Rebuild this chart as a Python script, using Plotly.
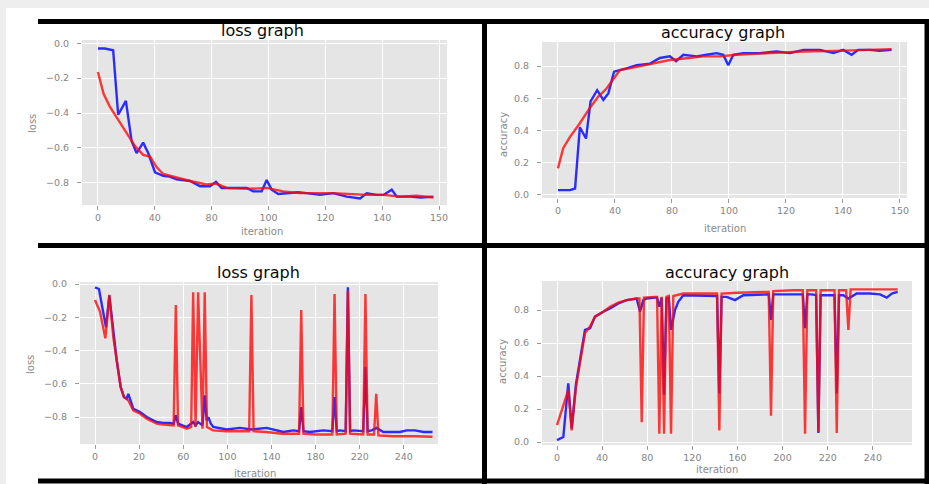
import plotly.graph_objects as go

W, H = 929, 484

# ---------------- data ----------------
# top-left: loss graph (first run)
tl_blue_x = [0, 3, 6.7, 8.9, 12.3, 14.8, 17, 19.9, 22.1, 25.1, 28.7, 31.5, 34.6, 37.5, 40.5, 44.9, 49.3, 51.9,
             54.4, 59.5, 65.4, 68.3, 72, 74.2, 76.4, 79.3, 84.5, 88, 91.8, 97.7, 103.5, 109.4, 115.3, 118.2,
             122.6, 125.6, 129.2, 131.4, 137.3, 142, 147.5]
tl_blue_y = [-0.03, -0.03, -0.04, -0.41, -0.33, -0.56, -0.63, -0.57, -0.63, -0.74, -0.76, -0.765, -0.78, -0.785,
             -0.79, -0.82, -0.82, -0.795, -0.83, -0.83, -0.83, -0.85, -0.85, -0.785, -0.84, -0.865, -0.86, -0.855,
             -0.86, -0.87, -0.86, -0.88, -0.89, -0.86, -0.87, -0.87, -0.84, -0.88, -0.88, -0.885, -0.88]
tl_red_x = [0, 2.5, 5.3, 8.9, 12.6, 16.3, 19.9, 22.9, 25.8, 28.7, 34.6, 40.5, 47.8, 51.9, 56.6, 66.9, 74.2, 81.5,
            88.8, 103.5, 118.2, 125.6, 132.9, 140.2, 147.5]
tl_red_y = [-0.165, -0.29, -0.365, -0.44, -0.52, -0.59, -0.64, -0.65, -0.71, -0.75, -0.77, -0.79, -0.81, -0.805,
            -0.83, -0.835, -0.83, -0.85, -0.86, -0.86, -0.87, -0.87, -0.88, -0.875, -0.885]

# top-right: accuracy graph (first run)
tr_blue_x = [0, 5.3, 7.5, 9.6, 12.3, 14.3, 17.2, 19.9, 22.1, 24.6, 30.1, 34.5, 40.4, 44.7, 49.1, 51.8, 55, 60.8,
             65.2, 69.6, 72.5, 74.7, 76.9, 81.3, 88.6, 95.9, 101.8, 107.6, 114.9, 120.8, 125.1, 128.8, 131.7,
             136.8, 141, 146.3]
tr_blue_y = [0.03, 0.03, 0.04, 0.42, 0.35, 0.58, 0.65, 0.59, 0.63, 0.765, 0.785, 0.805, 0.815, 0.85, 0.86, 0.83,
             0.87, 0.86, 0.87, 0.88, 0.87, 0.805, 0.87, 0.88, 0.88, 0.89, 0.88, 0.90, 0.90, 0.88, 0.90, 0.87, 0.90,
             0.90, 0.895, 0.90]
tr_red_x = [0, 2.3, 5.3, 9.6, 14, 17.7, 21.3, 24.3, 27.2, 34.5, 41.8, 49.1, 56.4, 63.7, 71, 78.3, 92.9, 107.6,
            122.2, 136.8, 146.3]
tr_red_y = [0.165, 0.29, 0.36, 0.445, 0.54, 0.61, 0.66, 0.72, 0.775, 0.795, 0.817, 0.837, 0.848, 0.86, 0.86,
            0.87, 0.88, 0.89, 0.894, 0.90, 0.905]

# bottom-left: loss graph (second run)
bl_blue_x = [0, 3.6, 6.6, 10, 13, 16.6, 19.7, 23.3, 26.3, 28.7, 30.2, 34.7, 40.8, 46.9, 55.9, 61.9, 68, 71.3,
             73.3, 75.3, 78.6, 83.2, 89, 91.2, 93.5, 97.5, 99.5, 101.3, 102.8, 105, 107.3, 119.4, 131.5, 142,
             155.6, 170.7, 179.8, 185, 187, 189, 194.9, 207, 215.2, 217.2, 219.2, 222.1, 227.3, 229.3, 231.3,
             234.2, 243.2, 245.2, 247.2, 250.8, 255.3, 261.4, 276.5, 282.6, 290.1, 298, 306]
bl_blue_y = [-0.02, -0.03, -0.14, -0.26, -0.07, -0.30, -0.46, -0.62, -0.68, -0.69, -0.66, -0.75, -0.77, -0.80,
             -0.83, -0.835, -0.835, -0.84, -0.79, -0.84, -0.85, -0.86, -0.83, -0.85, -0.83, -0.85, -0.67, -0.82,
             -0.80, -0.84, -0.86, -0.875, -0.865, -0.875, -0.865, -0.89, -0.88, -0.885, -0.74, -0.885, -0.89,
             -0.88, -0.885, -0.68, -0.885, -0.88, -0.885, -0.02, -0.885, -0.88, -0.885, -0.50, -0.885, -0.88,
             -0.865, -0.89, -0.89, -0.88, -0.88, -0.89, -0.89]
bl_red_x = [0, 4.5, 9.4, 13, 16.6, 19.7, 23.3, 26.3, 30.2, 34.7, 40.8, 46.9, 55.9, 61.9, 68, 71.3, 73.3, 75.3,
            83.2, 87.2, 89, 91.2, 93.5, 97.5, 99.5, 101.5, 107, 119, 131, 139.8, 141.8, 143.8, 155, 170, 180,
            185, 187, 189, 200, 215.2, 217.2, 219.2, 227.3, 229.3, 231.3, 243.2, 245.2, 247.2, 253, 255, 257,
            270, 290, 306]
bl_red_y = [-0.096, -0.166, -0.327, -0.066, -0.32, -0.46, -0.62, -0.68, -0.70, -0.76, -0.78, -0.81, -0.84,
            -0.845, -0.85, -0.85, -0.126, -0.85, -0.87, -0.86, -0.05, -0.86, -0.05, -0.87, -0.05, -0.86, -0.88,
            -0.885, -0.885, -0.885, -0.066, -0.885, -0.89, -0.90, -0.90, -0.90, -0.156, -0.90, -0.905, -0.905,
            -0.06, -0.905, -0.90, -0.04, -0.90, -0.905, -0.06, -0.905, -0.905, -0.66, -0.91, -0.915, -0.915,
            -0.918]

# bottom-right: accuracy graph (second run)
br_blue_x = [0, 5.6, 10, 13, 16.8, 20.4, 24.8, 29.3, 33.7, 41, 47, 54.4, 61.8, 70.6, 73.6, 76.5, 79.5, 86.9,
             88.7, 90.7, 92.8, 94.9, 97, 99.1, 101.1, 104.6, 107.5, 112, 129.7, 141.9, 143.9, 145.9, 150.4, 157.8,
             165.2, 182.9, 187.7, 189.7, 191.7, 197.7, 212.5, 217.9, 219.9, 221.9, 225.8, 229.7, 231.7, 233.7,
             237.6, 246, 248, 250, 253.8, 258.3, 265.7, 277.5, 286.3, 292.3, 296.8, 302]
br_blue_y = [0.012, 0.03, 0.355, 0.083, 0.35, 0.50, 0.68, 0.69, 0.76, 0.79, 0.81, 0.84, 0.86, 0.87, 0.79, 0.86,
             0.87, 0.875, 0.875, 0.82, 0.875, 0.285, 0.87, 0.875, 0.68, 0.80, 0.85, 0.89, 0.885, 0.885, 0.295,
             0.88, 0.88, 0.86, 0.89, 0.895, 0.895, 0.74, 0.895, 0.895, 0.895, 0.895, 0.69, 0.895, 0.895, 0.89,
             0.055, 0.89, 0.89, 0.89, 0.295, 0.89, 0.89, 0.87, 0.90, 0.90, 0.895, 0.875, 0.90, 0.91]
br_red_x = [0, 10, 13, 16.8, 20.4, 24.8, 29.3, 33.7, 41, 47, 54.4, 61.8, 70.6, 73.1, 75.1, 77.1, 86.9, 88.7,
            90.7, 92.8, 94.9, 97, 99.1, 101.1, 103.1, 112, 130, 141.9, 143.9, 145.9, 160, 187.7, 189.7, 191.7,
            210, 217.9, 219.9, 221.9, 229.7, 231.7, 233.7, 246, 248, 250, 256.3, 258.3, 260.3, 280, 302]
br_red_y = [0.103, 0.315, 0.07, 0.33, 0.48, 0.66, 0.70, 0.76, 0.79, 0.82, 0.845, 0.86, 0.87, 0.87, 0.12, 0.875,
            0.88, 0.88, 0.05, 0.88, 0.05, 0.88, 0.885, 0.05, 0.885, 0.90, 0.90, 0.90, 0.07, 0.90, 0.905, 0.91,
            0.16, 0.915, 0.92, 0.92, 0.05, 0.92, 0.92, 0.06, 0.92, 0.92, 0.055, 0.92, 0.92, 0.68, 0.925, 0.925,
            0.925]

# ticks
top_x_tickvals = [0, 25, 50, 75, 100, 125, 150]
top_x_ticktext = ["0", "40", "80", "100", "120", "140", "150"]
bot_x_tickvals = [0, 40, 80, 120, 160, 200, 240, 280]
bl_x_ticktext = ["0", "20", "60", "100", "140", "180", "220", "240"]
br_x_ticktext = ["0", "40", "80", "120", "160", "200", "220", "240"]
loss_y_tickvals = [0, -0.2, -0.4, -0.6, -0.8]
loss_y_ticktext = ["0.0", "\u22120.2", "\u22120.4", "\u22120.6", "\u22120.8"]
acc_y_tickvals = [0, 0.2, 0.4, 0.6, 0.8]
acc_y_ticktext = ["0.0", "0.2", "0.4", "0.6", "0.8"]

titles = ["loss graph", "accuracy graph", "loss graph", "accuracy graph"]
xlabel = "iteration"
ylabels = ["loss", "accuracy", "loss", "accuracy"]

# ---------------- layout helpers ----------------
def px_x(x):
    return x / W

def px_y(y):
    return 1 - y / H

FONT = "DejaVu Sans"
BLUE = "rgba(10,10,255,0.85)"
RED = "rgba(255,10,10,0.8)"

fig = go.Figure()

panels = [
    dict(name="", box=(82, 447, 40, 205), xr=[-7.0, 153.5], yr=[-0.928, 0.019],
         bx=tl_blue_x, by=tl_blue_y, rx=tl_red_x, ry=tl_red_y,
         xtv=top_x_tickvals, xtt=top_x_ticktext, ytv=loss_y_tickvals, ytt=loss_y_ticktext),
    dict(name="2", box=(542, 907, 42, 198), xr=[-7.0, 153.1], yr=[-0.019, 0.949],
         bx=tr_blue_x, by=tr_blue_y, rx=tr_red_x, ry=tr_red_y,
         xtv=top_x_tickvals, xtt=top_x_ticktext, ytv=acc_y_tickvals, ytt=acc_y_ticktext),
    dict(name="3", box=(80, 438, 282, 444), xr=[-13.6, 311.0], yr=[-0.962, 0.012],
         bx=bl_blue_x, by=bl_blue_y, rx=bl_red_x, ry=bl_red_y,
         xtv=bot_x_tickvals, xtt=bl_x_ticktext, ytv=loss_y_tickvals, ytt=loss_y_ticktext),
    dict(name="4", box=(542, 912, 281, 445), xr=[-13.3, 314.7], yr=[-0.018, 0.976],
         bx=br_blue_x, by=br_blue_y, rx=br_red_x, ry=br_red_y,
         xtv=bot_x_tickvals, xtt=br_x_ticktext, ytv=acc_y_tickvals, ytt=acc_y_ticktext),
]

layout = dict(
    width=W, height=H, margin=dict(l=0, r=0, t=0, b=0),
    paper_bgcolor="white", plot_bgcolor="#e5e5e5", showlegend=False,
    font=dict(family=FONT),
)

for p in panels:
    n = p["name"]
    xa = "x" + n
    ya = "y" + n
    fig.add_trace(go.Scatter(x=p["bx"], y=p["by"], mode="lines", xaxis=xa, yaxis=ya,
                             line=dict(color=BLUE, width=2.4)))
    fig.add_trace(go.Scatter(x=p["rx"], y=p["ry"], mode="lines", xaxis=xa, yaxis=ya,
                             line=dict(color=RED, width=2.4)))
    x0, x1, y0, y1 = p["box"]
    common = dict(showline=False, zeroline=False, showgrid=True, gridcolor="white", gridwidth=1,
                  ticks="outside", ticklen=4, tickwidth=1, tickcolor="#9a9a9a",
                  tickfont=dict(family=FONT, size=9.5, color="#858585"), automargin=False)
    layout["xaxis" + n] = dict(domain=[px_x(x0), px_x(x1)], range=p["xr"], anchor=ya,
                               tickmode="array", tickvals=p["xtv"], ticktext=p["xtt"], **common)
    layout["yaxis" + n] = dict(domain=[px_y(y1), px_y(y0)], range=p["yr"], anchor=xa,
                               tickmode="array", tickvals=p["ytv"], ticktext=p["ytt"],
                               ticklabelstandoff=6, **common)

fig.update_layout(**layout)

# titles and axis labels
ann = []
title_pos = [(262, 30), (723, 33), (258, 272), (727, 272)]
xlab_pos = [(262, 231), (725, 229), (255, 473), (717, 469)]
ylab_pos = [(32, 123), (503, 135), (30, 365), (502, 362)]
for i in range(4):
    tx, ty = title_pos[i]
    ann.append(dict(text=titles[i], x=px_x(tx), y=px_y(ty), xref="paper", yref="paper",
                    showarrow=False, xanchor="center", yanchor="middle",
                    font=dict(family=FONT, size=16, color="#0a0a0a")))
    lx, ly = xlab_pos[i]
    ann.append(dict(text=xlabel, x=px_x(lx), y=px_y(ly), xref="paper", yref="paper",
                    showarrow=False, xanchor="center", yanchor="middle",
                    font=dict(family=FONT, size=10, color="#8a8a8a")))
    vx, vy = ylab_pos[i]
    ann.append(dict(text=ylabels[i], x=px_x(vx), y=px_y(vy), xref="paper", yref="paper",
                    showarrow=False, xanchor="center", yanchor="middle", textangle=-90,
                    font=dict(family=FONT, size=10, color="#8a8a8a")))
fig.update_layout(annotations=ann)

# frame: gray strips and black separator lines
shapes = [
    dict(type="rect", xref="paper", yref="paper", x0=0, x1=1, y0=px_y(8), y1=1,
         fillcolor="#eeeeee", line=dict(width=0), layer="below"),
    dict(type="rect", xref="paper", yref="paper", x0=0, x1=px_x(6), y0=0, y1=1,
         fillcolor="#eeeeee", line=dict(width=0), layer="below"),
]
black_lines = [
    (38, 21.5, W, 21.5),
    (38, 245.5, W, 245.5),
    (38, 481, W, 481),
    (484.5, 19, 484.5, H),
    (927, 19, 927, H),
]
for (ax0, ay0, ax1, ay1) in black_lines:
    shapes.append(dict(type="line", xref="paper", yref="paper",
                       x0=px_x(ax0), y0=px_y(ay0), x1=px_x(ax1), y1=px_y(ay1),
                       line=dict(color="black", width=5)))
fig.update_layout(shapes=shapes)

fig.write_html("out.html", config={"displayModeBar": False},
               post_script="document.body.style.margin='0';document.body.style.overflow='hidden';")
